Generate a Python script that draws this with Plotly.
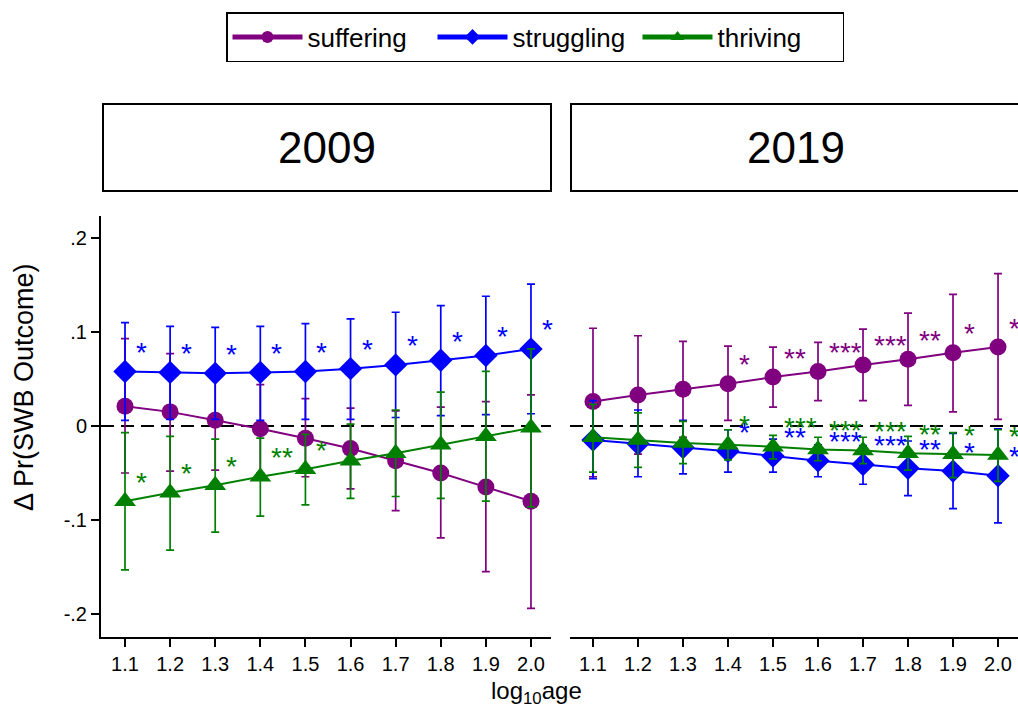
import plotly.graph_objects as go

# ---------------- data ----------------
ages = [1.1, 1.2, 1.3, 1.4, 1.5, 1.6, 1.7, 1.8, 1.9, 2.0]
age_labels = ["1.1", "1.2", "1.3", "1.4", "1.5", "1.6", "1.7", "1.8", "1.9", "2.0"]
years = ["2009", "2019"]
series_names = ["suffering", "struggling", "thriving"]

# 2009
suf_2009 = [0.021, 0.015, 0.006, -0.003, -0.013, -0.024, -0.037, -0.050, -0.065, -0.080]
suf_2009_lo = [-0.050, -0.048, -0.047, -0.050, -0.054, -0.067, -0.090, -0.119, -0.155, -0.194]
suf_2009_hi = [0.093, 0.077, 0.059, 0.044, 0.029, 0.019, 0.016, 0.020, 0.026, 0.033]

str_2009 = [0.058, 0.057, 0.056, 0.057, 0.058, 0.061, 0.065, 0.070, 0.075, 0.082]
str_2009_lo = [0.006, 0.007, 0.007, 0.006, 0.007, 0.007, 0.009, 0.011, 0.012, 0.013]
str_2009_hi = [0.110, 0.106, 0.105, 0.106, 0.109, 0.114, 0.121, 0.128, 0.138, 0.151]

thr_2009 = [-0.080, -0.071, -0.063, -0.054, -0.046, -0.037, -0.029, -0.020, -0.011, -0.002]
thr_2009_lo = [-0.153, -0.132, -0.113, -0.096, -0.084, -0.077, -0.075, -0.077, -0.080, -0.086]
thr_2009_hi = [-0.007, -0.011, -0.014, -0.013, -0.009, 0.002, 0.017, 0.036, 0.058, 0.082]

# 2019
suf_2019 = [0.026, 0.033, 0.039, 0.045, 0.052, 0.058, 0.065, 0.071, 0.078, 0.084]
suf_2019_lo = [-0.054, -0.030, -0.012, 0.006, 0.020, 0.027, 0.027, 0.022, 0.015, 0.007]
suf_2019_hi = [0.104, 0.096, 0.090, 0.085, 0.084, 0.089, 0.103, 0.120, 0.140, 0.162]

str_2019 = [-0.015, -0.019, -0.023, -0.027, -0.032, -0.037, -0.041, -0.045, -0.048, -0.053]
str_2019_lo = [-0.056, -0.054, -0.051, -0.049, -0.049, -0.054, -0.062, -0.074, -0.088, -0.103]
str_2019_hi = [0.027, 0.017, 0.006, -0.004, -0.014, -0.020, -0.021, -0.016, -0.008, -0.003]

thr_2019 = [-0.012, -0.015, -0.018, -0.020, -0.022, -0.025, -0.026, -0.029, -0.030, -0.031]
thr_2019_lo = [-0.049, -0.044, -0.040, -0.036, -0.035, -0.037, -0.040, -0.047, -0.055, -0.059]
thr_2019_hi = [0.023, 0.014, 0.005, -0.004, -0.010, -0.012, -0.012, -0.011, -0.007, -0.004]

# significance stars
stars_suf_2009 = ["", "", "", "", "", "", "", "", "", ""]
stars_str_2009 = ["*", "*", "*", "*", "*", "*", "*", "*", "*", "*"]
stars_thr_2009 = ["*", "*", "*", "**", "*", "", "", "", "", ""]
stars_suf_2019 = ["", "", "", "*", "**", "***", "***", "**", "*", "*"]
stars_str_2019 = ["", "", "", "*", "**", "***", "***", "**", "*", "*"]
stars_thr_2019 = ["", "", "", "*", "***", "***", "***", "**", "*", "*"]

y_tickvals = [0.2, 0.1, 0.0, -0.1, -0.2]
y_ticktext = [".2", ".1", "0", "-.1", "-.2"]

# ---------------- styling ----------------
W, H = 1018, 711
FONT = "Liberation Sans, Arial, sans-serif"
colors = {"suffering": "#800080", "struggling": "#0000FF", "thriving": "#008000"}
symbols = {"suffering": "circle", "struggling": "diamond", "thriving": "triangle-up"}
sizes = {"suffering": 17, "struggling": 18, "thriving": 19}

def px_x(p):
    return p / W

def px_y(p):
    return 1 - p / H

data = {
    "2009": {
        "suffering": (suf_2009, suf_2009_lo, suf_2009_hi, stars_suf_2009),
        "struggling": (str_2009, str_2009_lo, str_2009_hi, stars_str_2009),
        "thriving": (thr_2009, thr_2009_lo, thr_2009_hi, stars_thr_2009),
    },
    "2019": {
        "suffering": (suf_2019, suf_2019_lo, suf_2019_hi, stars_suf_2019),
        "struggling": (str_2019, str_2019_lo, str_2019_hi, stars_str_2019),
        "thriving": (thr_2019, thr_2019_lo, thr_2019_hi, stars_thr_2019),
    },
}

fig = go.Figure()
annotations = []
axes = {"2009": "x", "2019": "x2"}

for yi, year in enumerate(years):
    xa = axes[year]
    for name in series_names:
        vals, lo, hi, stars = data[year][name]
        c = colors[name]
        fig.add_trace(go.Scatter(
            x=ages, y=vals, xaxis=xa, yaxis="y",
            mode="lines+markers", name=name,
            showlegend=(yi == 0),
            line=dict(color=c, width=2),
            marker=dict(symbol=symbols[name], size=sizes[name], color=c,
                        line=dict(width=0)),
            error_y=dict(type="data", symmetric=False,
                         array=[h - v for h, v in zip(hi, vals)],
                         arrayminus=[v - l for v, l in zip(vals, lo)],
                         color=c, thickness=1.7, width=4),
        ))
        for xv, yv, s in zip(ages, vals, stars):
            if s:
                annotations.append(dict(
                    x=xv, y=yv, xref=xa, yref="y", text=s, showarrow=False,
                    xanchor="left", yanchor="middle", xshift=9, yshift=19,
                    font=dict(family=FONT, size=28, color=c),
                ))

# axis titles
annotations.append(dict(x=px_x(24), y=px_y(387), xref="paper", yref="paper",
                        text="\u0394 Pr(SWB Outcome)", textangle=-90, showarrow=False,
                        xanchor="center", yanchor="middle",
                        font=dict(family=FONT, size=27, color="black")))
annotations.append(dict(x=px_x(536), y=px_y(692), xref="paper", yref="paper",
                        text="log<sub>10</sub>age", showarrow=False,
                        xanchor="center", yanchor="middle",
                        font=dict(family=FONT, size=24, color="black")))
# panel headers
annotations.append(dict(x=px_x(327), y=px_y(147), xref="paper", yref="paper",
                        text=years[0], showarrow=False, xanchor="center", yanchor="middle",
                        font=dict(family=FONT, size=44, color="black")))
annotations.append(dict(x=px_x(796), y=px_y(147), xref="paper", yref="paper",
                        text=years[1], showarrow=False, xanchor="center", yanchor="middle",
                        font=dict(family=FONT, size=44, color="black")))

shapes = [
    dict(type="rect", xref="paper", yref="paper", x0=px_x(103), x1=px_x(551),
         y0=px_y(191), y1=px_y(104), line=dict(color="black", width=2), fillcolor="white"),
    dict(type="rect", xref="paper", yref="paper", x0=px_x(571), x1=px_x(1030),
         y0=px_y(191), y1=px_y(104), line=dict(color="black", width=2), fillcolor="white"),
    dict(type="line", xref="x domain", yref="y", x0=0, x1=1, y0=0, y1=0,
         line=dict(color="black", width=2, dash="13px,7px"), layer="below"),
    dict(type="line", xref="x2 domain", yref="y", x0=0, x1=1, y0=0, y1=0,
         line=dict(color="black", width=2, dash="13px,7px"), layer="below"),
]

xaxis_common = dict(
    tickvals=ages, ticktext=age_labels, showgrid=False, zeroline=False,
    showline=True, linecolor="black", linewidth=2,
    ticks="outside", ticklen=8, tickwidth=2, tickcolor="black",
    tickfont=dict(family=FONT, size=20, color="black"),
    anchor="y", fixedrange=True,
)

fig.update_layout(
    width=W, height=H, autosize=False,
    margin=dict(l=0, r=0, t=0, b=0, pad=0),
    paper_bgcolor="white", plot_bgcolor="white",
    font=dict(family=FONT, color="black"),
    xaxis=dict(domain=[px_x(101), px_x(551)], range=[1.0468, 2.0444], **xaxis_common),
    xaxis2=dict(domain=[px_x(570), 1.0], range=[1.0489, 2.0444], **xaxis_common),
    yaxis=dict(domain=[px_y(637), px_y(216)], range=[-0.2245, 0.2234],
               tickvals=y_tickvals, ticktext=y_ticktext,
               showgrid=False, zeroline=False, showline=True, linecolor="black",
               linewidth=2, ticks="outside", ticklen=8, tickwidth=2, tickcolor="black",
               tickfont=dict(family=FONT, size=20, color="black"),
               anchor="x", fixedrange=True),
    legend=dict(orientation="h", x=px_x(535), xanchor="center", y=px_y(12), yanchor="top",
                bordercolor="black", borderwidth=1.5, bgcolor="white",
                font=dict(family=FONT, size=26, color="black"),
                itemwidth=70, entrywidth=120, itemsizing="constant"),
    shapes=shapes,
    annotations=annotations,
)

fig.write_html("out.html", config={"displayModeBar": False},
               post_script="document.body.style.margin='0';document.body.style.overflow='hidden';")
